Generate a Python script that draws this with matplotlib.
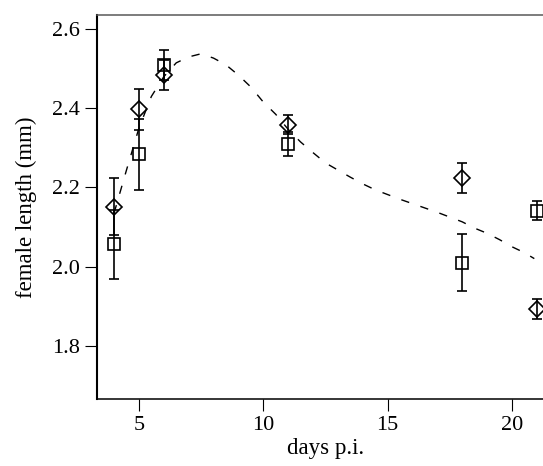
import matplotlib
matplotlib.use('Agg')
import matplotlib.pyplot as plt

# measured days post infection
days = [4, 5, 6, 11, 18, 21]

# square series: mean female length and error
sq_len = [2.056, 2.284, 2.510, 2.310, 2.010, 2.141]
sq_err = [0.087, 0.090, 0.038, 0.030, 0.073, 0.024]

# diamond series
dm_len = [2.151, 2.398, 2.484, 2.358, 2.225, 1.892]
dm_err = [0.072, 0.052, 0.038, 0.024, 0.038, 0.025]

# fitted curve (dashed)
fit_x = [4.0, 4.5, 5.0, 5.5, 6.0, 6.5, 7.0, 7.5, 8.0, 8.5, 9.0, 9.5, 10.0,
         10.5, 11.0, 11.5, 12.0, 12.5, 13.0, 13.5, 14.0, 14.5, 15.0, 15.5,
         16.0, 16.5, 17.0, 17.5, 18.0, 18.5, 19.0, 19.5, 20.0, 20.5, 20.9]
fit_y = [2.135, 2.244, 2.350, 2.430, 2.480, 2.515, 2.530, 2.538, 2.527,
         2.510, 2.484, 2.454, 2.416, 2.385, 2.347, 2.315, 2.288, 2.262,
         2.244, 2.226, 2.209, 2.194, 2.182, 2.170, 2.159, 2.148, 2.137,
         2.125, 2.113, 2.097, 2.084, 2.068, 2.050, 2.035, 2.020]

plt.rcParams.update({
    'font.family': ['Liberation Serif', 'DejaVu Serif'],
    'font.size': 16,
})

fig = plt.figure(figsize=(5.43, 4.66), dpi=100)
ax = fig.add_axes([0.178, 0.1438, 1.022 - 0.178, 0.9678 - 0.1438])

ax.plot(fit_x, fit_y, color='black', lw=1.0, linestyle=(0, (6, 8.5)))

ax.errorbar(days, sq_len, yerr=sq_err, fmt='s', ms=8, mfc='none', mec='black',
            mew=1.2, ecolor='black', elinewidth=1.2, capsize=3.6, capthick=1.2)
ax.errorbar(days, dm_len, yerr=dm_err, fmt='D', ms=8.5, mfc='none', mec='black',
            mew=1.2, ecolor='black', elinewidth=1.2, capsize=3.6, capthick=1.2)

ax.set_xlim(3.30, 21.73)
ax.set_ylim(1.665, 2.636)
ax.set_xticks([5, 10, 15, 20])
ax.set_yticks([1.8, 2.0, 2.2, 2.4, 2.6])
ax.set_yticklabels(['1.8', '2.0', '2.2', '2.4', '2.6'])

ax.tick_params(direction='out', length=8.6, width=0.8, pad=3.5)
ax.spines['left'].set_linewidth(1.5)
ax.spines['bottom'].set_linewidth(1.1)
ax.spines['top'].set_linewidth(1.1)
ax.spines['top'].set_color('0.35')
ax.spines['right'].set_visible(False)

ax.set_xlabel('days p.i.', fontsize=16.5, labelpad=2)
ax.set_ylabel('female length (mm)', fontsize=16.5, labelpad=11)

plt.savefig('out.png', dpi=100)
